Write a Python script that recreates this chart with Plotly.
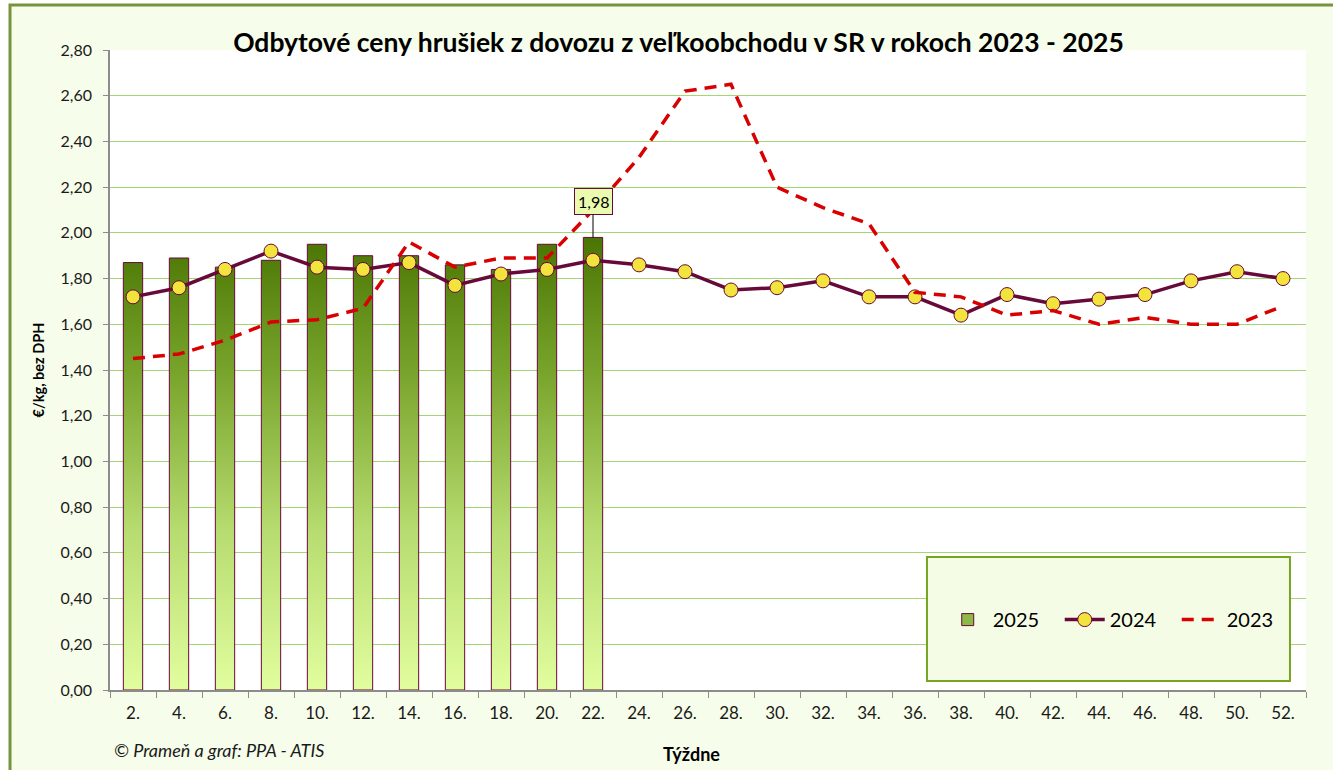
import plotly.graph_objects as go

# ---------------- data ----------------
weeks = [f"{w}." for w in range(2, 53, 2)]
s2025 = [1.87, 1.89, 1.85, 1.88, 1.95, 1.90, 1.90, 1.86, 1.84, 1.95, 1.98]
s2024 = [1.72, 1.76, 1.84, 1.92, 1.85, 1.84, 1.87, 1.77, 1.82, 1.84, 1.88, 1.86, 1.83,
         1.75, 1.76, 1.79, 1.72, 1.72, 1.64, 1.73, 1.69, 1.71, 1.73, 1.79, 1.83, 1.80]
s2023 = [1.45, 1.47, 1.53, 1.61, 1.62, 1.67, 1.96, 1.85, 1.89, 1.89, 2.10, 2.33, 2.62,
         2.65, 2.20, 2.11, 2.04, 1.74, 1.72, 1.64, 1.66, 1.60, 1.63, 1.60, 1.60, 1.68]
y_ticks = [round(0.2 * k, 2) for k in range(15)]

FONT = "Lato"
MAROON = "#670A3A"
RED = "#D80000"
GRID = "#A3D774"
AXIS = "#8C8C8C"

xs = list(range(len(weeks)))

# bars (2025) as filled rectangles so they can carry a vertical gradient
hw = 0.21
bx, by = [], []
for i, v in enumerate(s2025):
    bx += [i - hw, i - hw, i + hw, i + hw, i - hw, None]
    by += [0, v, v, 0, 0, None]

fig = go.Figure()
fig.add_trace(go.Scatter(
    x=bx, y=by, name="2025", mode="lines", fill="toself", showlegend=False,
    line=dict(color=MAROON, width=1),
    fillgradient=dict(type="vertical",
                      colorscale=[[0, "#E2FD9E"], [0.35, "#B7DC70"],
                                  [0.7, "#79A42C"], [1, "#4A7503"]]),
    hoverinfo="skip"))
# legend entry for 2025 (bar swatch)
fig.add_trace(go.Bar(x=[None], y=[None], name="2025",
                     marker=dict(color="#8DB946", line=dict(color=MAROON, width=1))))
fig.add_trace(go.Scatter(
    x=xs, y=s2024, name="2024", mode="lines+markers",
    line=dict(color=MAROON, width=3.5),
    marker=dict(size=14, color="#F2E43C", line=dict(color=MAROON, width=1))))
fig.add_trace(go.Scatter(
    x=xs, y=s2023, name="2023", mode="lines",
    line=dict(color=RED, width=3.5, dash="12px,8px")))

# data label for last 2025 value
last_i = len(s2025) - 1
fig.add_annotation(
    x=last_i, y=s2025[last_i], text=f"{s2025[last_i]:.2f}".replace(".", ","),
    showarrow=True, arrowhead=0, arrowwidth=1, arrowcolor="#000000",
    ax=0, ay=-36, bgcolor="#EAFBB0", bordercolor=MAROON, borderwidth=1,
    borderpad=3, font=dict(family=FONT, size=16, color="#000000"))

# frame / backgrounds
fig.add_shape(type="rect", xref="paper", yref="paper",
              x0=-0.0836, x1=1.05, y0=-0.15, y1=1.0703,
              fillcolor="#F6FDEA", line=dict(color="#77933C", width=3), layer="below")
fig.add_shape(type="rect", xref="paper", yref="paper",
              x0=0, x1=1, y0=0, y1=1,
              fillcolor="#FFFFFF", line=dict(width=0), layer="below")
# legend box
fig.add_shape(type="rect", xref="paper", yref="paper",
              x0=0.6831, x1=0.9866, y0=0.0141, y1=0.2078,
              fillcolor="#F5FCE6", line=dict(color="#77A522", width=2), layer="above")

fig.add_annotation(text="© Prameň a graf: PPA - ATIS", xref="paper", yref="paper",
                   x=0.0017, y=-0.094, xanchor="left", yanchor="middle", showarrow=False,
                   font=dict(family=FONT, size=18, color="#1a1a1a", style="italic"))
fig.add_annotation(text="<b>Týždne</b>", xref="paper", yref="paper",
                   x=0.4866, y=-0.10, xanchor="center", yanchor="middle", showarrow=False,
                   font=dict(family=FONT, size=18, color="#000000"))

fig.update_layout(
    width=1333, height=770,
    margin=dict(l=110, r=27, t=50, b=80),
    paper_bgcolor="#FFFFFF", plot_bgcolor="#FFFFFF",
    separators=", ",
    barmode="overlay",
    title=dict(text="<b>Odbytové ceny hrušiek z dovozu z veľkoobchodu v SR v rokoch 2023 - 2025</b>",
               x=0.509, xanchor="center", y=0.944, yanchor="middle",
               font=dict(family=FONT, size=26.5, color="#000000")),
    showlegend=True,
    legend=dict(orientation="h", x=0.843, y=0.110, xanchor="center", yanchor="middle",
                bgcolor="rgba(0,0,0,0)", borderwidth=0, itemwidth=40,
                entrywidth=62, entrywidthmode="pixels",
                font=dict(family=FONT, size=20, color="#000000")),
    xaxis=dict(range=[-0.5, len(weeks) - 0.5], tickmode="array", tickvals=xs, ticktext=weeks,
               ticks="", showgrid=False, zeroline=False, showline=True,
               linecolor=AXIS, linewidth=1.5, ticklabelstandoff=7,
               tickfont=dict(family=FONT, size=17, color="#1a1a1a"),
               minor=dict(tick0=-0.5, dtick=1, ticks="outside", ticklen=6,
                          tickcolor=AXIS, tickwidth=1, showgrid=False)),
    yaxis=dict(range=[0, 2.8], tickmode="array", tickvals=y_ticks, tickformat=".2f",
               ticks="outside", ticklen=5, tickcolor=AXIS, showline=True,
               linecolor=AXIS, linewidth=1.5, showgrid=True, gridcolor=GRID, gridwidth=1.2,
               zeroline=False, ticklabelstandoff=8,
               tickfont=dict(family=FONT, size=16, color="#1a1a1a"),
               title=dict(text="<b>€/kg, bez DPH</b>", standoff=12,
                          font=dict(family=FONT, size=14.5, color="#000000"))),
)

fig.write_html("out.html", config={"displayModeBar": False},
               post_script="document.body.style.margin='0px';")
